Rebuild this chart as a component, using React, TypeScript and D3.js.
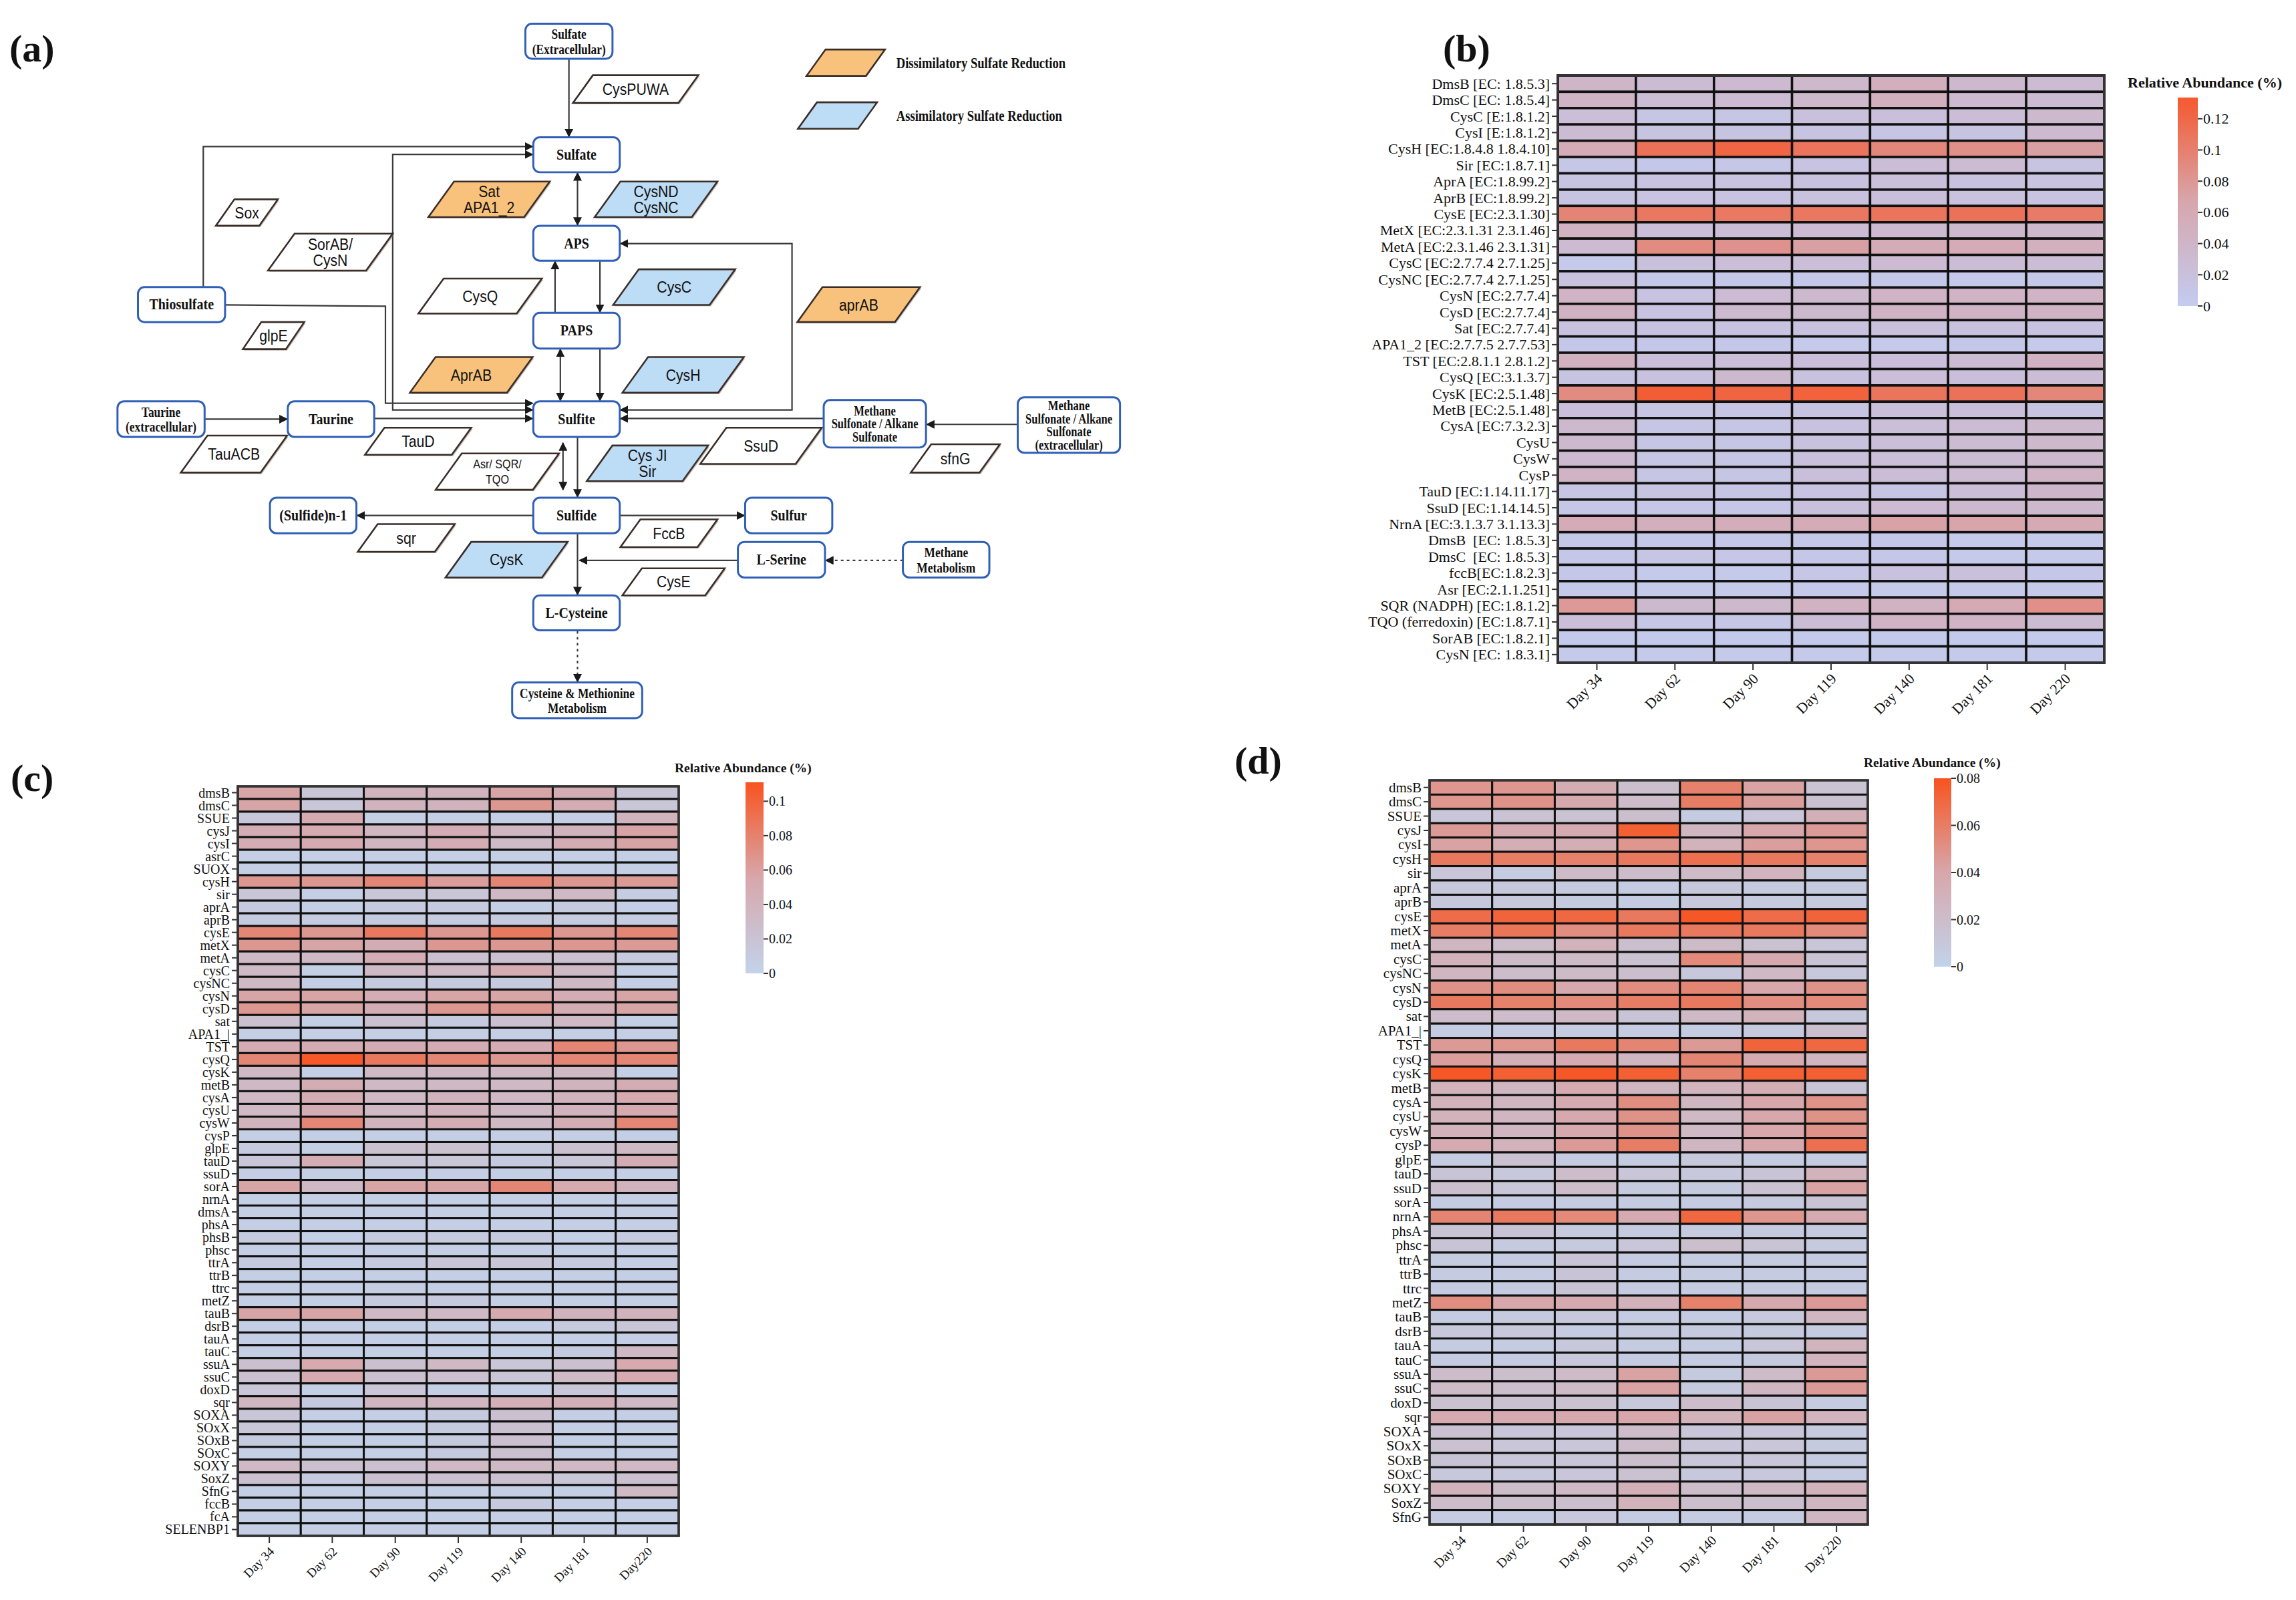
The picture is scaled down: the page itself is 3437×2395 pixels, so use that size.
import * as d3 from "d3";

// ---------- data ----------
const days = ["Day 34", "Day 62", "Day 90", "Day 119", "Day 140", "Day 181", "Day 220"];
const daysC = ["Day 34", "Day 62", "Day 90", "Day 119", "Day 140", "Day 181", "Day220"];

const genesB = [
  "DmsB [EC: 1.8.5.3]", "DmsC [EC: 1.8.5.4]", "CysC [E:1.8.1.2]", "CysI [E:1.8.1.2]",
  "CysH [EC:1.8.4.8 1.8.4.10]", "Sir [EC:1.8.7.1]", "AprA [EC:1.8.99.2]", "AprB [EC:1.8.99.2]",
  "CysE [EC:2.3.1.30]", "MetX [EC:2.3.1.31 2.3.1.46]", "MetA [EC:2.3.1.46 2.3.1.31]",
  "CysC [EC:2.7.7.4 2.7.1.25]", "CysNC [EC:2.7.7.4 2.7.1.25]", "CysN [EC:2.7.7.4]",
  "CysD [EC:2.7.7.4]", "Sat [EC:2.7.7.4]", "APA1_2 [EC:2.7.7.5 2.7.7.53]", "TST [EC:2.8.1.1 2.8.1.2]",
  "CysQ [EC:3.1.3.7]", "CysK [EC:2.5.1.48]", "MetB [EC:2.5.1.48]", "CysA [EC:7.3.2.3]",
  "CysU", "CysW", "CysP", "TauD [EC:1.14.11.17]", "SsuD [EC:1.14.14.5]", "NrnA [EC:3.1.3.7 3.1.13.3]",
  "DmsB  [EC: 1.8.5.3]", "DmsC  [EC: 1.8.5.3]", "fccB[EC:1.8.2.3]", "Asr [EC:2.1.1.251]",
  "SQR (NADPH) [EC:1.8.1.2]", "TQO (ferredoxin) [EC:1.8.7.1]", "SorAB [EC:1.8.2.1]", "CysN [EC: 1.8.3.1]",
];
const valuesB = [
  [0.040, 0.028, 0.032, 0.036, 0.052, 0.034, 0.028],
  [0.044, 0.026, 0.030, 0.036, 0.050, 0.032, 0.028],
  [0.024, 0.012, 0.012, 0.020, 0.022, 0.026, 0.034],
  [0.028, 0.014, 0.014, 0.014, 0.012, 0.014, 0.032],
  [0.058, 0.112, 0.122, 0.110, 0.094, 0.086, 0.072],
  [0.010, 0.008, 0.010, 0.016, 0.026, 0.028, 0.014],
  [0.014, 0.016, 0.016, 0.018, 0.022, 0.018, 0.016],
  [0.014, 0.016, 0.016, 0.018, 0.022, 0.018, 0.016],
  [0.096, 0.108, 0.106, 0.108, 0.110, 0.112, 0.104],
  [0.046, 0.024, 0.026, 0.030, 0.032, 0.034, 0.036],
  [0.030, 0.090, 0.084, 0.072, 0.056, 0.058, 0.050],
  [0.006, 0.020, 0.024, 0.024, 0.030, 0.026, 0.026],
  [0.018, 0.008, 0.008, 0.008, 0.008, 0.006, 0.008],
  [0.044, 0.016, 0.030, 0.034, 0.044, 0.042, 0.044],
  [0.046, 0.016, 0.032, 0.034, 0.044, 0.042, 0.044],
  [0.018, 0.016, 0.016, 0.018, 0.020, 0.018, 0.016],
  [0.008, 0.008, 0.008, 0.006, 0.006, 0.008, 0.006],
  [0.048, 0.022, 0.024, 0.022, 0.022, 0.028, 0.046],
  [0.014, 0.018, 0.034, 0.018, 0.024, 0.022, 0.026],
  [0.090, 0.130, 0.124, 0.126, 0.110, 0.112, 0.094],
  [0.022, 0.012, 0.012, 0.014, 0.022, 0.022, 0.014],
  [0.034, 0.012, 0.012, 0.018, 0.024, 0.028, 0.034],
  [0.034, 0.012, 0.012, 0.018, 0.024, 0.028, 0.036],
  [0.032, 0.012, 0.012, 0.020, 0.024, 0.028, 0.034],
  [0.044, 0.012, 0.012, 0.022, 0.026, 0.030, 0.042],
  [0.012, 0.014, 0.012, 0.014, 0.012, 0.024, 0.038],
  [0.010, 0.010, 0.010, 0.020, 0.030, 0.034, 0.034],
  [0.058, 0.052, 0.054, 0.058, 0.070, 0.068, 0.060],
  [0.008, 0.008, 0.008, 0.008, 0.008, 0.006, 0.006],
  [0.008, 0.012, 0.010, 0.008, 0.008, 0.006, 0.006],
  [0.008, 0.006, 0.006, 0.010, 0.018, 0.020, 0.008],
  [0.006, 0.006, 0.006, 0.006, 0.006, 0.006, 0.006],
  [0.078, 0.034, 0.036, 0.046, 0.046, 0.060, 0.086],
  [0.024, 0.010, 0.010, 0.026, 0.042, 0.044, 0.028],
  [0.004, 0.004, 0.004, 0.004, 0.004, 0.004, 0.004],
  [0.006, 0.006, 0.006, 0.006, 0.006, 0.006, 0.006],
];
const ticksB = [0, 0.02, 0.04, 0.06, 0.08, 0.1, 0.12];

const genesC = [
  "dmsB", "dmsC", "SSUE", "cysJ", "cysI", "asrC", "SUOX", "cysH", "sir", "aprA", "aprB", "cysE",
  "metX", "metA", "cysC", "cysNC", "cysN", "cysD", "sat", "APA1_|", "TST", "cysQ", "cysK", "metB",
  "cysA", "cysU", "cysW", "cysP", "glpE", "tauD", "ssuD", "sorA", "nrnA", "dmsA", "phsA", "phsB",
  "phsc", "ttrA", "ttrB", "ttrc", "metZ", "tauB", "dsrB", "tauA", "tauC", "ssuA", "ssuC", "doxD",
  "sqr", "SOXA", "SOxX", "SOxB", "SOxC", "SOXY", "SoxZ", "SfnG", "fccB", "fcA", "SELENBP1",
];
const valuesC = [
  [0.057, 0.017, 0.040, 0.040, 0.057, 0.048, 0.017],
  [0.057, 0.017, 0.040, 0.040, 0.066, 0.048, 0.017],
  [0.016, 0.050, 0.006, 0.006, 0.006, 0.006, 0.040],
  [0.048, 0.050, 0.036, 0.048, 0.036, 0.040, 0.058],
  [0.048, 0.050, 0.036, 0.048, 0.030, 0.048, 0.058],
  [0.005, 0.005, 0.005, 0.005, 0.005, 0.005, 0.005],
  [0.005, 0.005, 0.005, 0.005, 0.005, 0.005, 0.005],
  [0.066, 0.066, 0.077, 0.062, 0.077, 0.066, 0.064],
  [0.017, 0.006, 0.017, 0.017, 0.033, 0.033, 0.008],
  [0.011, 0.006, 0.011, 0.011, 0.006, 0.011, 0.006],
  [0.011, 0.009, 0.011, 0.010, 0.011, 0.010, 0.009],
  [0.077, 0.066, 0.086, 0.066, 0.086, 0.066, 0.077],
  [0.066, 0.057, 0.048, 0.066, 0.066, 0.066, 0.064],
  [0.033, 0.033, 0.048, 0.024, 0.024, 0.024, 0.011],
  [0.033, 0.006, 0.033, 0.033, 0.048, 0.033, 0.006],
  [0.033, 0.006, 0.011, 0.011, 0.011, 0.033, 0.006],
  [0.057, 0.057, 0.048, 0.057, 0.057, 0.048, 0.057],
  [0.066, 0.057, 0.048, 0.066, 0.066, 0.048, 0.057],
  [0.024, 0.006, 0.024, 0.011, 0.024, 0.033, 0.006],
  [0.005, 0.005, 0.005, 0.005, 0.005, 0.005, 0.005],
  [0.048, 0.048, 0.048, 0.048, 0.048, 0.077, 0.066],
  [0.077, 0.108, 0.086, 0.077, 0.066, 0.077, 0.077],
  [0.033, 0.006, 0.033, 0.033, 0.033, 0.033, 0.006],
  [0.033, 0.048, 0.033, 0.033, 0.033, 0.040, 0.048],
  [0.033, 0.048, 0.033, 0.040, 0.033, 0.040, 0.052],
  [0.033, 0.048, 0.033, 0.040, 0.033, 0.040, 0.052],
  [0.040, 0.077, 0.040, 0.048, 0.033, 0.048, 0.077],
  [0.005, 0.005, 0.005, 0.005, 0.005, 0.005, 0.005],
  [0.011, 0.006, 0.024, 0.024, 0.011, 0.024, 0.033],
  [0.017, 0.048, 0.017, 0.017, 0.011, 0.017, 0.048],
  [0.005, 0.005, 0.005, 0.005, 0.005, 0.005, 0.005],
  [0.057, 0.033, 0.057, 0.057, 0.077, 0.052, 0.040],
  [0.005, 0.005, 0.005, 0.005, 0.005, 0.005, 0.005],
  [0.005, 0.005, 0.005, 0.005, 0.005, 0.005, 0.005],
  [0.005, 0.005, 0.005, 0.005, 0.005, 0.005, 0.005],
  [0.011, 0.006, 0.011, 0.011, 0.011, 0.006, 0.011],
  [0.005, 0.005, 0.005, 0.005, 0.005, 0.005, 0.005],
  [0.011, 0.006, 0.011, 0.017, 0.017, 0.011, 0.006],
  [0.005, 0.005, 0.005, 0.005, 0.005, 0.005, 0.005],
  [0.006, 0.006, 0.008, 0.006, 0.006, 0.006, 0.006],
  [0.006, 0.006, 0.011, 0.011, 0.006, 0.006, 0.006],
  [0.057, 0.057, 0.033, 0.033, 0.052, 0.040, 0.040],
  [0.006, 0.006, 0.006, 0.006, 0.006, 0.011, 0.017],
  [0.005, 0.005, 0.005, 0.005, 0.005, 0.005, 0.005],
  [0.006, 0.006, 0.006, 0.006, 0.006, 0.011, 0.033],
  [0.024, 0.052, 0.024, 0.033, 0.017, 0.024, 0.052],
  [0.024, 0.052, 0.024, 0.024, 0.017, 0.033, 0.052],
  [0.017, 0.006, 0.017, 0.006, 0.006, 0.017, 0.006],
  [0.036, 0.011, 0.036, 0.036, 0.044, 0.044, 0.033],
  [0.017, 0.006, 0.006, 0.011, 0.024, 0.006, 0.006],
  [0.017, 0.006, 0.006, 0.011, 0.024, 0.006, 0.006],
  [0.011, 0.006, 0.006, 0.011, 0.024, 0.006, 0.006],
  [0.006, 0.006, 0.006, 0.011, 0.024, 0.006, 0.006],
  [0.033, 0.024, 0.024, 0.033, 0.033, 0.033, 0.033],
  [0.024, 0.011, 0.024, 0.024, 0.024, 0.017, 0.024],
  [0.006, 0.006, 0.006, 0.006, 0.006, 0.006, 0.033],
  [0.006, 0.006, 0.006, 0.006, 0.011, 0.006, 0.006],
  [0.005, 0.005, 0.005, 0.005, 0.005, 0.005, 0.005],
  [0.005, 0.005, 0.005, 0.005, 0.005, 0.005, 0.005],
];
const ticksC = [0, 0.02, 0.04, 0.06, 0.08, 0.1];

const genesD = [
  "dmsB", "dmsC", "SSUE", "cysJ", "cysI", "cysH", "sir", "aprA", "aprB", "cysE", "metX", "metA",
  "cysC", "cysNC", "cysN", "cysD", "sat", "APA1_|", "TST", "cysQ", "cysK", "metB", "cysA", "cysU",
  "cysW", "cysP", "glpE", "tauD", "ssuD", "sorA", "nrnA", "phsA", "phsc", "ttrA", "ttrB", "ttrc",
  "metZ", "tauB", "dsrB", "tauA", "tauC", "ssuA", "ssuC", "doxD", "sqr", "SOXA", "SOxX", "SOxB",
  "SOxC", "SOXY", "SoxZ", "SfnG",
];
const valuesD = [
  [0.048, 0.048, 0.035, 0.018, 0.058, 0.042, 0.015],
  [0.048, 0.050, 0.038, 0.020, 0.060, 0.044, 0.016],
  [0.012, 0.015, 0.015, 0.018, 0.006, 0.012, 0.032],
  [0.046, 0.036, 0.036, 0.074, 0.026, 0.040, 0.046],
  [0.042, 0.034, 0.034, 0.048, 0.030, 0.044, 0.048],
  [0.062, 0.060, 0.058, 0.062, 0.066, 0.062, 0.058],
  [0.012, 0.006, 0.022, 0.020, 0.022, 0.028, 0.008],
  [0.010, 0.010, 0.008, 0.006, 0.010, 0.008, 0.008],
  [0.010, 0.010, 0.008, 0.006, 0.010, 0.008, 0.008],
  [0.068, 0.072, 0.070, 0.062, 0.078, 0.068, 0.072],
  [0.060, 0.064, 0.052, 0.062, 0.062, 0.062, 0.054],
  [0.026, 0.020, 0.030, 0.018, 0.022, 0.016, 0.012],
  [0.030, 0.022, 0.022, 0.016, 0.054, 0.038, 0.014],
  [0.026, 0.020, 0.022, 0.018, 0.010, 0.024, 0.010],
  [0.050, 0.052, 0.038, 0.052, 0.056, 0.040, 0.050],
  [0.062, 0.058, 0.054, 0.060, 0.062, 0.052, 0.054],
  [0.020, 0.020, 0.024, 0.014, 0.024, 0.030, 0.010],
  [0.006, 0.006, 0.006, 0.006, 0.006, 0.008, 0.018],
  [0.046, 0.048, 0.062, 0.056, 0.046, 0.072, 0.070],
  [0.044, 0.032, 0.036, 0.026, 0.056, 0.036, 0.026],
  [0.078, 0.074, 0.078, 0.074, 0.058, 0.074, 0.074],
  [0.030, 0.026, 0.036, 0.026, 0.028, 0.034, 0.014],
  [0.030, 0.026, 0.036, 0.052, 0.026, 0.040, 0.050],
  [0.030, 0.026, 0.038, 0.050, 0.024, 0.040, 0.050],
  [0.030, 0.026, 0.038, 0.050, 0.024, 0.040, 0.050],
  [0.036, 0.030, 0.046, 0.060, 0.026, 0.040, 0.066],
  [0.006, 0.016, 0.006, 0.006, 0.010, 0.006, 0.006],
  [0.014, 0.010, 0.020, 0.012, 0.010, 0.014, 0.030],
  [0.018, 0.012, 0.020, 0.008, 0.008, 0.016, 0.042],
  [0.006, 0.006, 0.006, 0.006, 0.006, 0.008, 0.014],
  [0.056, 0.062, 0.054, 0.036, 0.070, 0.048, 0.036],
  [0.014, 0.014, 0.008, 0.008, 0.008, 0.008, 0.008],
  [0.014, 0.008, 0.008, 0.012, 0.018, 0.014, 0.008],
  [0.006, 0.006, 0.014, 0.006, 0.006, 0.006, 0.006],
  [0.006, 0.006, 0.014, 0.006, 0.006, 0.006, 0.006],
  [0.006, 0.006, 0.014, 0.006, 0.006, 0.006, 0.006],
  [0.052, 0.040, 0.036, 0.030, 0.058, 0.038, 0.046],
  [0.006, 0.008, 0.010, 0.006, 0.006, 0.010, 0.026],
  [0.010, 0.010, 0.006, 0.008, 0.008, 0.008, 0.006],
  [0.006, 0.006, 0.010, 0.006, 0.006, 0.012, 0.028],
  [0.006, 0.006, 0.010, 0.006, 0.006, 0.008, 0.028],
  [0.020, 0.018, 0.022, 0.042, 0.008, 0.022, 0.046],
  [0.022, 0.018, 0.022, 0.042, 0.008, 0.026, 0.046],
  [0.016, 0.016, 0.016, 0.010, 0.020, 0.014, 0.006],
  [0.036, 0.036, 0.038, 0.040, 0.030, 0.042, 0.028],
  [0.016, 0.012, 0.012, 0.020, 0.012, 0.012, 0.008],
  [0.016, 0.012, 0.012, 0.020, 0.012, 0.012, 0.008],
  [0.014, 0.012, 0.012, 0.018, 0.012, 0.012, 0.006],
  [0.010, 0.010, 0.012, 0.016, 0.010, 0.010, 0.006],
  [0.030, 0.020, 0.024, 0.032, 0.020, 0.024, 0.030],
  [0.020, 0.018, 0.018, 0.030, 0.018, 0.018, 0.026],
  [0.006, 0.006, 0.010, 0.006, 0.006, 0.006, 0.026],
];
const ticksD = [0, 0.02, 0.04, 0.06, 0.08];

// pathway diagram (panel a)
const nodeLabels: Record<string, string[]> = {
  sulfateExt: ["Sulfate", "(Extracellular)"],
  sulfate: ["Sulfate"],
  aps: ["APS"],
  paps: ["PAPS"],
  sulfite: ["Sulfite"],
  sulfide: ["Sulfide"],
  cysteine: ["L-Cysteine"],
  cysmet: ["Cysteine & Methionine", "Metabolism"],
  thiosulfate: ["Thiosulfate"],
  taurineExt: ["Taurine", "(extracellular)"],
  taurine: ["Taurine"],
  msas: ["Methane", "Sulfonate / Alkane", "Sulfonate"],
  msasExt: ["Methane", "Sulfonate / Alkane", "Sulfonate", "(extracellular)"],
  sulfideN: ["(Sulfide)n-1"],
  sulfur: ["Sulfur"],
  serine: ["L-Serine"],
  methane: ["Methane", "Metabolism"],
};
const enzymeLabels: [string, string[], string][] = [
  ["cysPUWA", ["CysPUWA"], "none"],
  ["sat", ["Sat", "APA1_2"], "dis"],
  ["cysND", ["CysND", "CysNC"], "ass"],
  ["sox", ["Sox"], "none"],
  ["sorAB", ["SorAB/", "CysN"], "none"],
  ["cysQ", ["CysQ"], "none"],
  ["cysC", ["CysC"], "ass"],
  ["aprAB", ["aprAB"], "dis"],
  ["glpE", ["glpE"], "none"],
  ["AprAB", ["AprAB"], "dis"],
  ["cysH", ["CysH"], "ass"],
  ["tauD", ["TauD"], "none"],
  ["tauACB", ["TauACB"], "none"],
  ["asr", ["Asr/ SQR/", "TQO"], "none"],
  ["cysJI", ["Cys JI", "Sir"], "ass"],
  ["ssuD", ["SsuD"], "none"],
  ["sfnG", ["sfnG"], "none"],
  ["sqr", ["sqr"], "none"],
  ["fccB", ["FccB"], "none"],
  ["cysK", ["CysK"], "ass"],
  ["cysE", ["CysE"], "none"],
];
const legendItems: [string, string][] = [
  ["dis", "Dissimilatory Sulfate Reduction"],
  ["ass", "Assimilatory Sulfate Reduction"],
];

// ---------- layout ----------
const nodeBox: Record<string, number[]> = {
  sulfateExt: [796, 36, 132, 53], sulfate: [808, 208, 131, 53], aps: [808, 342, 131, 53],
  paps: [808, 474, 131, 54], sulfite: [808, 608, 131, 54], sulfide: [808, 754, 131, 54],
  cysteine: [808, 902, 131, 53], cysmet: [776, 1034, 197, 54], thiosulfate: [209, 435, 132, 53],
  taurineExt: [178, 608, 132, 54], taurine: [436, 608, 131, 54], msas: [1248, 606, 155, 72],
  msasExt: [1542, 602, 155, 84], sulfideN: [409, 754, 131, 54], sulfur: [1129, 754, 132, 54],
  serine: [1118, 821, 132, 54], methane: [1368, 821, 131, 54],
};
const enzymeBox: Record<string, number[]> = {
  cysPUWA: [868, 114, 190, 42], sat: [649, 275, 184, 54], cysND: [901, 275, 186, 54],
  sox: [327, 302, 94, 40], sorAB: [406, 354, 189, 56], cysQ: [634, 422, 187, 53],
  cysC: [929, 408, 185, 54], aprAB: [1208, 435, 186, 53], glpE: [368, 488, 93, 41],
  AprAB: [621, 541, 186, 54], cysH: [943, 541, 184, 54], tauD: [553, 648, 161, 41],
  tauACB: [274, 660, 161, 56], asr: [660, 687, 187, 55], cysJI: [889, 675, 184, 54],
  ssuD: [1061, 648, 184, 55], sfnG: [1380, 673, 135, 43], sqr: [542, 794, 147, 42],
  fccB: [940, 787, 147, 42], cysK: [675, 821, 185, 54], cysE: [943, 861, 155, 41],
};
const legendBox = [[1222, 75, 119, 40], [1209, 155, 120, 40]];
const fills: Record<string, string> = { none: "#ffffff", dis: "#f8c27c", ass: "#bddcf5" };

type Edge = { pts: [number, number][]; start?: boolean; end?: boolean; dashed?: boolean };
const edges: Edge[] = [
  { pts: [[862, 89], [862, 207]], end: true },
  { pts: [[875, 262], [875, 341]], start: true, end: true },
  { pts: [[909, 396], [909, 473]], end: true },
  { pts: [[841, 474], [841, 396]], end: true },
  { pts: [[849, 529], [849, 607]], start: true, end: true },
  { pts: [[909, 529], [909, 607]], end: true },
  { pts: [[875, 663], [875, 753]], end: true },
  { pts: [[853, 742], [853, 671]], start: true, end: true },
  { pts: [[875, 809], [875, 901]], end: true },
  { pts: [[1118, 849], [878, 849]], end: true },
  { pts: [[1368, 849], [1251, 849]], end: true, dashed: true },
  { pts: [[875, 956], [875, 1033]], end: true, dashed: true },
  { pts: [[808, 781], [541, 781]], end: true },
  { pts: [[939, 781], [1128, 781]], end: true },
  { pts: [[310, 635], [435, 635]], end: true },
  { pts: [[567, 634], [807, 634]], end: true },
  { pts: [[1248, 634], [940, 634]], end: true },
  { pts: [[1542, 643], [1404, 643]], end: true },
  { pts: [[940, 621], [1200, 621], [1200, 369], [940, 369]], start: true, end: true },
  { pts: [[308, 435], [308, 222], [807, 222]], end: true },
  { pts: [[807, 621], [595, 621], [595, 234], [807, 234]], start: true, end: true },
  { pts: [[341, 462], [584, 464], [584, 611], [807, 611]], end: true },
];

const serif = "'Liberation Serif', 'Times New Roman', serif";
const sans = "'Liberation Sans', Arial, sans-serif";

function MultiLine({ cx, cy, lines, size, lh, weight, family, sx }: any) {
  const n = lines.length;
  return (
    <text
      transform={`translate(${cx},${cy}) scale(${sx},1)`}
      textAnchor="middle"
      fontSize={size}
      fontWeight={weight}
      fontFamily={family}
      fill="#111"
    >
      {lines.map((l: string, k: number) => (
        <tspan key={k} x={0} y={(k - (n - 1) / 2) * lh} dominantBaseline="central">
          {l}
        </tspan>
      ))}
    </text>
  );
}

function para(x: number, y: number, w: number, h: number) {
  const s = Math.min(h * 0.72, w * 0.3);
  return `M${x + s},${y}L${x + w},${y}L${x + w - s},${y + h}L${x},${y + h}Z`;
}

function PanelA() {
  const line = d3.line();
  return (
    <g transform="scale(0.988)">
      <defs>
        <marker id="arr" viewBox="0 0 10 10" refX="9" refY="5" markerWidth="6" markerHeight="6" orient="auto-start-reverse">
          <path d="M0,0L10,5L0,10z" fill="#1a1a1a" />
        </marker>
      </defs>
      {edges.map((e, i) => (
        <path
          key={i}
          d={line(e.pts) ?? ""}
          fill="none"
          stroke="#3a3a3a"
          strokeWidth={2.2}
          strokeDasharray={e.dashed ? "4 5" : undefined}
          markerEnd={e.end ? "url(#arr)" : undefined}
          markerStart={e.start ? "url(#arr)" : undefined}
        />
      ))}
      {Object.keys(nodeLabels).map((id) => {
        const [x, y, w, h] = nodeBox[id];
        const lines = nodeLabels[id];
        const many = lines.length > 2;
        const tight = many || lines.length === 2;
        return (
          <g key={id}>
            <rect x={x} y={y} width={w} height={h} rx={10} fill="#fff" stroke="#2f5fb6" strokeWidth={3} />
            <MultiLine
              cx={x + w / 2}
              cy={y + h / 2}
              lines={lines}
              size={many ? 21 : tight ? 22 : 23}
              lh={many ? 20 : 23}
              weight="bold"
              family={serif}
              sx={tight ? 0.8 : 0.88}
            />
          </g>
        );
      })}
      {enzymeLabels.map(([id, lines, kind]) => {
        const [x, y, w, h] = enzymeBox[id];
        const small = id === "asr";
        return (
          <g key={id}>
            <path d={para(x + 2, y + 2, w, h)} fill="#8a7a70" opacity={0.5} />
            <path d={para(x, y, w, h)} fill={fills[kind]} stroke="#3a2d28" strokeWidth={2.6} />
            <MultiLine cx={x + w / 2} cy={y + h / 2} lines={lines} size={small ? 19 : 25} lh={small ? 23 : 24} weight="normal" family={sans} sx={0.86} />
          </g>
        );
      })}
      {legendItems.map(([kind, label], i) => {
        const [x, y, w, h] = legendBox[i];
        return (
          <g key={kind}>
            <path d={para(x, y, w, h)} fill={fills[kind]} stroke="#3a2d28" strokeWidth={2.6} />
            <text transform={`translate(1358,${y + h / 2}) scale(0.82,1)`} dominantBaseline="central" fontSize={23} fontWeight="bold" fontFamily={serif} fill="#111">
              {label}
            </text>
          </g>
        );
      })}
    </g>
  );
}

function Heatmap({ box, rows, cols, values, max, colors, cbar, title, ticks, yFont, xFont, tickFont, titleFont, gradId, cellStroke }: any) {
  const x = d3.scaleBand<string>().domain(cols).range([box.x, box.x + box.w]);
  const y = d3.scaleBand<number>().domain(d3.range(rows.length)).range([box.y, box.y + box.h]);
  const color = d3.scaleLinear<string>().domain([0, max / 2, max]).range(colors).interpolate(d3.interpolateRgb).clamp(true);
  const cb = d3.scaleLinear().domain([0, max]).range([cbar.y + cbar.h, cbar.y]);
  const bottom = box.y + box.h;
  const bw = x.bandwidth();
  const bh = y.bandwidth();
  return (
    <g fontFamily={serif} fill="#111">
      <defs>
        <linearGradient id={gradId} x1="0" y1="1" x2="0" y2="0">
          {d3.range(0, 11).map((k) => (
            <stop key={k} offset={k / 10} stopColor={color((k / 10) * max)} />
          ))}
        </linearGradient>
      </defs>
      {values.map((row: number[], i: number) =>
        row.map((v: number, j: number) => (
          <rect key={`${i}-${j}`} x={x(cols[j])} y={y(i)} width={bw} height={bh} fill={color(v)} stroke="#111" strokeWidth={cellStroke} />
        ))
      )}
      <rect x={box.x} y={box.y} width={box.w} height={box.h} fill="none" stroke="#333" strokeWidth={cellStroke + 0.5} />
      {rows.map((r: string, i: number) => {
        const cy = (y(i) ?? 0) + bh / 2;
        return (
          <g key={i}>
            <line x1={box.x - 9} x2={box.x - 2} y1={cy} y2={cy} stroke="#333" strokeWidth={2} />
            <text x={box.x - 12} y={cy} textAnchor="end" dominantBaseline="central" fontSize={yFont} style={{ whiteSpace: "pre" }}>
              {r}
            </text>
          </g>
        );
      })}
      {cols.map((c: string) => {
        const cx = (x(c) ?? 0) + bw / 2;
        return (
          <g key={c}>
            <line x1={cx} x2={cx} y1={bottom + 2} y2={bottom + 11} stroke="#333" strokeWidth={2} />
            <text transform={`translate(${cx + 4},${bottom + 20}) rotate(-45)`} textAnchor="end" dominantBaseline="central" fontSize={xFont}>
              {c}
            </text>
          </g>
        );
      })}
      <rect x={cbar.x} y={cbar.y} width={cbar.w} height={cbar.h} fill={`url(#${gradId})`} />
      {ticks.map((t: number) => (
        <g key={t}>
          <line x1={cbar.x + cbar.w} x2={cbar.x + cbar.w + 7} y1={cb(t)} y2={cb(t)} stroke="#333" strokeWidth={2} />
          <text x={cbar.x + cbar.w + 8} y={cb(t)} dominantBaseline="central" fontSize={tickFont}>
            {String(t)}
          </text>
        </g>
      ))}
      <text x={title.x} y={title.y} fontSize={titleFont} fontWeight="bold">
        Relative Abundance (%)
      </text>
    </g>
  );
}

const colorsB = ["#c3ccf0", "#d7a6ad", "#f5592f"];
const colorsCD = ["#c2d3eb", "#d7a7ab", "#f8531f"];

export default function App() {
  return (
    <svg width={3437} height={2395} viewBox="0 0 3437 2395" style={{ position: "absolute", left: 0, top: 0, display: "block" }}>
      <rect width={3437} height={2395} fill="#fff" />
      <PanelA />
      <Heatmap
        box={{ x: 2332, y: 113, w: 818, h: 879 }}
        rows={genesB} cols={days} values={valuesB} max={0.1336} colors={colorsB}
        cbar={{ x: 3260, y: 146, w: 30, h: 312 }} title={{ x: 3185, y: 131 }} ticks={ticksB}
        yFont={22} xFont={22} tickFont={22} titleFont={22} gradId="gb" cellStroke={3.5}
      />
      <Heatmap
        box={{ x: 356, y: 1177, w: 660, h: 1122 }}
        rows={genesC} cols={daysC} values={valuesC} max={0.111} colors={colorsCD}
        cbar={{ x: 1116, y: 1171, w: 27, h: 286 }} title={{ x: 1010, y: 1156 }} ticks={ticksC}
        yFont={20} xFont={19} tickFont={20} titleFont={19.5} gradId="gc" cellStroke={3}
      />
      <Heatmap
        box={{ x: 2140, y: 1168, w: 656, h: 1114 }}
        rows={genesD} cols={days} values={valuesD} max={0.08} colors={colorsCD}
        cbar={{ x: 2895, y: 1165, w: 26, h: 282 }} title={{ x: 2790, y: 1148 }} ticks={ticksD}
        yFont={21} xFont={20} tickFont={20} titleFont={19.5} gradId="gd" cellStroke={3}
      />
      <g fontFamily={serif} fontWeight="bold" fontSize={58} fill="#111">
        <text x={14} y={92}>(a)</text>
        <text x={2160} y={92}>(b)</text>
        <text x={16} y={1184}>(c)</text>
        <text x={1848} y={1158}>(d)</text>
      </g>
    </svg>
  );
}
